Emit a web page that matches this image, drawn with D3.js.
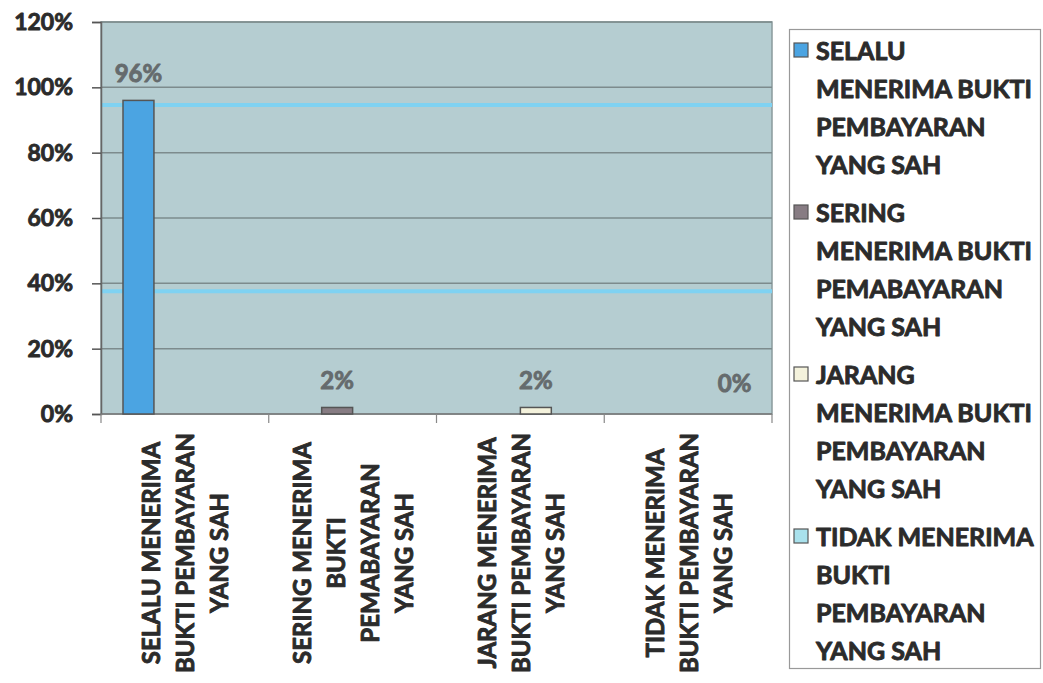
<!DOCTYPE html>
<html>
<head>
<meta charset="utf-8">
<script src="https://cdn.jsdelivr.net/npm/d3@7"></script>
<style>
  body { margin: 0; background: #fff; }
  svg { display: block; font-family: Lato, "Open Sans", sans-serif; font-weight: bold; }
  .heavy { stroke-width: 0.9px; stroke-linejoin: round; }
</style>
</head>
<body>
<script>
// categories on the x axis (each is drawn on several lines)
const categories = [
  ["SELALU MENERIMA", "BUKTI PEMBAYARAN", "YANG SAH"],
  ["SERING MENERIMA", "BUKTI", "PEMABAYARAN", "YANG SAH"],
  ["JARANG MENERIMA", "BUKTI PEMBAYARAN", "YANG SAH"],
  ["TIDAK MENERIMA", "BUKTI PEMBAYARAN", "YANG SAH"]
];
// one series per answer, each only has a value in its own category
const seriesNames = [
  ["SELALU", "MENERIMA BUKTI", "PEMBAYARAN", "YANG SAH"],
  ["SERING", "MENERIMA BUKTI", "PEMABAYARAN", "YANG SAH"],
  ["JARANG", "MENERIMA BUKTI", "PEMBAYARAN", "YANG SAH"],
  ["TIDAK MENERIMA", "BUKTI", "PEMBAYARAN", "YANG SAH"]
];
const values = [0.96, 0.02, 0.02, 0.00];
const seriesColors = ["#4ba4e2", "#877c83", "#f4f2dc", "#a9e1ec"];
const yTicks = [0, 0.2, 0.4, 0.6, 0.8, 1.0, 1.2];
// light blue streaks crossing the plot in the scan
const streaks = [0.946, 0.376];

const width = 1043, height = 683;
const plot = {left: 101, right: 772, top: 22, bottom: 414};
const textColor = "#2b2b2b";

const svg = d3.select("body").append("svg")
  .attr("width", width)
  .attr("height", height);

const x0 = d3.scaleBand()
  .domain(d3.range(categories.length))
  .range([plot.left, plot.right]);

const x1 = d3.scaleBand()
  .domain(d3.range(seriesNames.length))
  .range([22, x0.bandwidth() - 22]);

const y = d3.scaleLinear()
  .domain([0, 1.2])
  .range([plot.bottom, plot.top]);

// plot background
svg.append("rect")
  .attr("x", plot.left)
  .attr("y", plot.top)
  .attr("width", plot.right - plot.left)
  .attr("height", plot.bottom - plot.top)
  .attr("fill", "#b5cdd1")
  .attr("stroke", "#8a9a9c")
  .attr("stroke-width", 1.5);

// gridlines
svg.append("g")
  .selectAll("line")
  .data(yTicks.slice(1))
  .join("line")
    .attr("x1", plot.left)
    .attr("x2", plot.right)
    .attr("y1", d => y(d))
    .attr("y2", d => y(d))
    .attr("stroke", "#7d8b8d")
    .attr("stroke-width", 1.5);

svg.append("g")
  .selectAll("line")
  .data(streaks)
  .join("line")
    .attr("x1", plot.left)
    .attr("x2", plot.right)
    .attr("y1", d => y(d))
    .attr("y2", d => y(d))
    .attr("stroke", "#7fd2f2")
    .attr("stroke-width", 4);

// y axis
const yAxis = svg.append("g")
  .attr("transform", `translate(${plot.left},0)`)
  .call(d3.axisLeft(y).tickValues(yTicks).tickFormat(d3.format(".0%")).tickSize(9).tickPadding(19));
yAxis.select(".domain").attr("stroke", "#666").attr("stroke-width", 1.5);
yAxis.selectAll(".tick line").attr("stroke", "#555").attr("stroke-width", 1.5);
yAxis.selectAll(".tick text")
  .attr("class", "heavy")
  .attr("font-size", 23)
  .attr("font-family", "Lato, sans-serif")
  .attr("font-weight", "bold")
  .attr("fill", textColor)
  .attr("stroke", textColor);

// x axis ticks at category boundaries
const xAxis = svg.append("g");
xAxis.append("line")
  .attr("x1", plot.left).attr("x2", plot.right)
  .attr("y1", plot.bottom).attr("y2", plot.bottom)
  .attr("stroke", "#777").attr("stroke-width", 1.5);
xAxis.selectAll(".xt")
  .data(d3.range(categories.length + 1))
  .join("line")
    .attr("class", "xt")
    .attr("x1", d => d < categories.length ? x0(d) : plot.right)
    .attr("x2", d => d < categories.length ? x0(d) : plot.right)
    .attr("y1", plot.bottom)
    .attr("y2", plot.bottom + 9)
    .attr("stroke", "#888")
    .attr("stroke-width", 1.2);

// category labels, rotated
const lineGap = 34;
const labelCenterY = 553;
categories.forEach((lines, i) => {
  const cx = x0(i) + x0.bandwidth() / 2;
  const g = svg.append("g");
  lines.forEach((t, j) => {
    const lx = cx + (j - (lines.length - 1) / 2) * lineGap;
    g.append("text")
      .attr("class", "heavy")
      .attr("transform", `translate(${lx},${labelCenterY}) rotate(-90)`)
      .attr("text-anchor", "middle")
      .attr("dominant-baseline", "central")
      .attr("font-size", 24)
      .attr("fill", textColor)
      .attr("stroke", textColor)
      .text(t);
  });
});

// bars
const bars = values.map((v, i) => ({series: i, cat: i, value: v}));
svg.append("g")
  .selectAll("rect")
  .data(bars.filter(d => d.value > 0))
  .join("rect")
    .attr("x", d => x0(d.cat) + x1(d.series))
    .attr("y", d => y(d.value))
    .attr("width", x1.bandwidth())
    .attr("height", d => y(0) - y(d.value))
    .attr("fill", d => seriesColors[d.series])
    .attr("stroke", "#555")
    .attr("stroke-width", 1.5);

// value labels
svg.append("g")
  .selectAll("text")
  .data(bars)
  .join("text")
    .attr("class", "heavy")
    .attr("x", d => x0(d.cat) + x1(d.series) + x1.bandwidth() / 2)
    .attr("y", d => y(d.value) - (d.value > 0 ? 18 : 22))
    .attr("text-anchor", "middle")
    .attr("font-size", 24)
    .attr("fill", "#656b6d")
    .attr("stroke", "#656b6d")
    .text(d => d3.format(".0%")(d.value));

// legend
const legend = svg.append("g");
legend.append("rect")
  .attr("x", 789.5)
  .attr("y", 29.5)
  .attr("width", 251)
  .attr("height", 639)
  .attr("fill", "#fff")
  .attr("stroke", "#999")
  .attr("stroke-width", 1.2);

const itemTop = 50, itemGap = 162, legendLineGap = 38;
seriesNames.forEach((lines, i) => {
  const top = itemTop + i * itemGap;
  legend.append("rect")
    .attr("x", 794)
    .attr("y", top - 7)
    .attr("width", 14)
    .attr("height", 14)
    .attr("fill", seriesColors[i])
    .attr("stroke", "#555")
    .attr("stroke-width", 1.2);
  lines.forEach((t, j) => {
    legend.append("text")
      .attr("class", "heavy")
      .attr("x", 816)
      .attr("y", top + j * legendLineGap)
      .attr("dominant-baseline", "central")
      .attr("font-size", 25)
      .attr("textLength", null)
      .attr("fill", textColor)
      .attr("stroke", textColor)
      .text(t);
  });
});
</script>
</body>
</html>
